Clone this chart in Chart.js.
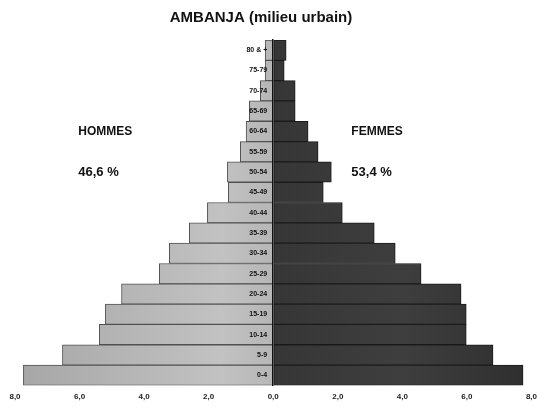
<!DOCTYPE html>
<html>
<head>
<meta charset="utf-8">
<script src="https://cdn.jsdelivr.net/npm/chart.js@4/dist/chart.umd.min.js"></script>
<style>
  html, body { margin: 0; padding: 0; background: #ffffff; }
  #wrap { width: 537px; height: 412px; position: relative; }
</style>
</head>
<body>
<div id="wrap"><canvas id="c" width="537" height="412"></canvas></div>
<script>
// Age groups, top to bottom
const ageGroups = ["80 & +", "75-79", "70-74", "65-69", "60-64", "55-59", "50-54", "45-49",
  "40-44", "35-39", "30-34", "25-29", "20-24", "15-19", "10-14", "5-9", "0-4"];
// Percent of population (men drawn to the left)
const hommes = [0.25, 0.25, 0.40, 0.74, 0.84, 1.02, 1.42, 1.39,
  2.04, 2.60, 3.22, 3.53, 4.70, 5.20, 5.39, 6.53, 7.74];
const femmes = [0.40, 0.34, 0.68, 0.68, 1.08, 1.39, 1.80, 1.55,
  2.14, 3.13, 3.78, 4.58, 5.82, 5.98, 5.98, 6.81, 7.74];
const titre = "AMBANJA (milieu urbain)";
const labelHommes = "HOMMES";
const labelFemmes = "FEMMES";
const pctHommes = "46,6 %";
const pctFemmes = "53,4 %";
const xMin = -8, xMax = 8, xStep = 2;

const FONT = '"Liberation Sans", Arial, sans-serif';

function gradMale(ctx) {
  const ch = ctx.chart; const a = ch.chartArea;
  if (!a) return '#b8b8b8';
  const x0 = ch.scales.x.getPixelForValue(xMin), x1 = ch.scales.x.getPixelForValue(0);
  const g = ch.ctx.createLinearGradient(x0, 0, x1, 0);
  g.addColorStop(0, '#a6a6a6');
  g.addColorStop(0.8, '#c2c2c2');
  g.addColorStop(1, '#b6b6b6');
  return g;
}
function gradFemale(ctx) {
  const ch = ctx.chart; const a = ch.chartArea;
  if (!a) return '#363636';
  const x0 = ch.scales.x.getPixelForValue(0), x1 = ch.scales.x.getPixelForValue(xMax);
  const g = ch.ctx.createLinearGradient(x0, 0, x1, 0);
  g.addColorStop(0, '#363636');
  g.addColorStop(0.5, '#3e3e3e');
  g.addColorStop(1, '#2e2e2e');
  return g;
}

// Age labels: taken from the category scale, drawn just left of the zero line
const ageLabelPlugin = {
  id: 'ageLabels',
  afterDatasetsDraw(chart) {
    const c = chart.ctx, xs = chart.scales.x, ys = chart.scales.y;
    const x0 = xs.getPixelForValue(0) - 6;
    c.save();
    c.fillStyle = '#111';
    c.font = 'bold 7px ' + FONT;
    c.textAlign = 'right';
    c.textBaseline = 'middle';
    ys.ticks.forEach((t, i) => {
      c.fillText(ys.getLabelForValue(t.value), x0, ys.getPixelForTick(i));
    });
    c.restore();
  }
};

const textPlugin = {
  id: 'sideText',
  afterDraw(chart) {
    const c = chart.ctx, xs = chart.scales.x, ys = chart.scales.y;
    c.save();
    c.fillStyle = '#111';
    c.textBaseline = 'middle';
    c.textAlign = 'center';
    c.font = 'bold 15px ' + FONT;
    c.fillText(titre, 261, 18);
    c.textAlign = 'left';
    const yA = ys.getPixelForValue(4);
    const yB = ys.getPixelForValue(6);
    c.font = 'bold 12px ' + FONT;
    c.fillText(labelHommes, xs.getPixelForValue(-6.04), yA);
    c.fillText(labelFemmes, xs.getPixelForValue(2.42), yA);
    c.font = 'bold 13px ' + FONT;
    c.fillText(pctHommes, xs.getPixelForValue(-6.04), yB);
    c.fillText(pctFemmes, xs.getPixelForValue(2.42), yB);
    c.restore();
  }
};

new Chart(document.getElementById('c'), {
  type: 'bar',
  data: {
    labels: ageGroups,
    datasets: [
      { label: labelHommes, data: hommes.map(v => -v), backgroundColor: gradMale,
        borderColor: '#505050', borderWidth: 1, borderSkipped: false },
      { label: labelFemmes, data: femmes, backgroundColor: gradFemale,
        borderColor: '#1a1a1a', borderWidth: 1, borderSkipped: false }
    ]
  },
  options: {
    indexAxis: 'y',
    responsive: false,
    animation: false,
    devicePixelRatio: 1,
    layout: { padding: { left: 15, right: 0, top: 40, bottom: 10 } },
    datasets: { bar: { barPercentage: 1.0, categoryPercentage: 1.0 } },
    plugins: {
      legend: { display: false },
      tooltip: { enabled: false },
      title: { display: false }
    },
    scales: {
      x: {
        stacked: true, min: xMin, max: xMax,
        grid: { display: true, drawOnChartArea: false, drawTicks: true, tickLength: 7, color: 'rgba(0,0,0,0)' },
        border: { display: false },
        ticks: {
          stepSize: xStep, padding: 0, color: '#222',
          font: { size: 8, weight: 'bold', family: FONT },
          callback: v => Math.abs(v).toFixed(1).replace('.', ',')
        }
      },
      y: {
        stacked: true, position: { x: 0 },
        grid: { display: false, drawTicks: false },
        border: { display: true, color: '#111', width: 1.5, z: 1 },
        ticks: { display: false }
      }
    }
  },
  plugins: [ageLabelPlugin, textPlugin]
});
</script>
</body>
</html>
